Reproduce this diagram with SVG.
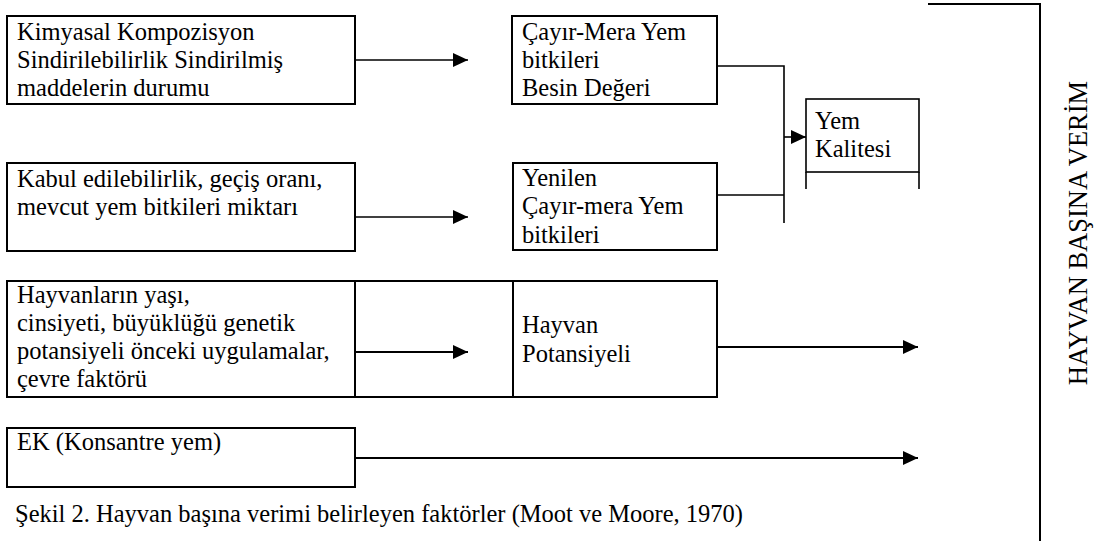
<svg xmlns="http://www.w3.org/2000/svg" width="1102" height="546" viewBox="0 0 1102 546">
<style>
  .box { fill: #fff; stroke: #000; stroke-width: 2; }
  .t { font-family: "Liberation Serif", "Times New Roman", serif; font-size: 24.5px; fill: #000; }
  .c { fill: none; stroke: #000; stroke-width: 1.6; }
</style>
<defs>
  <marker id="ah" markerUnits="userSpaceOnUse" markerWidth="16" markerHeight="16" refX="15" refY="7" orient="auto">
    <path d="M0,0 L15,7 L0,14 z" fill="#000"/>
  </marker>
</defs>
<rect width="1102" height="546" fill="#fff"/>

<g id="n-kimyasal">
  <rect class="box" x="7" y="16" width="348" height="88"/>
  <text class="t" x="17" y="40">Kimyasal Kompozisyon</text>
  <text class="t" x="17" y="68">Sindirilebilirlik Sindirilmiş</text>
  <text class="t" x="17" y="96">maddelerin durumu</text>
</g>
<g id="n-cayir">
  <rect class="box" x="512" y="16" width="205" height="88"/>
  <text class="t" x="522" y="40">Çayır-Mera Yem</text>
  <text class="t" x="522" y="68">bitkileri</text>
  <text class="t" x="522" y="96">Besin Değeri</text>
</g>
<g id="n-kabul">
  <rect class="box" x="7" y="163" width="348" height="88"/>
  <text class="t" x="17" y="187">Kabul edilebilirlik, geçiş oranı,</text>
  <text class="t" x="17" y="215">mevcut yem bitkileri miktarı</text>
</g>
<g id="n-yenilen">
  <rect class="box" x="513" y="163" width="204" height="87"/>
  <text class="t" x="522" y="186">Yenilen</text>
  <text class="t" x="522" y="214">Çayır-mera Yem</text>
  <text class="t" x="522" y="243">bitkileri</text>
</g>
<g id="n-kalite">
  <rect class="box" x="806" y="99" width="113" height="73" style="stroke-width:1.6"/>
  <line class="c" x1="806" y1="172" x2="806" y2="189"/>
  <line class="c" x1="919" y1="172" x2="919" y2="189"/>
  <text class="t" x="815" y="129">Yem</text>
  <text class="t" x="815" y="157">Kalitesi</text>
</g>
<g id="n-hayvanlar">
  <rect class="box" x="7" y="281" width="348" height="116"/>
  <text class="t" x="17" y="303">Hayvanların yaşı,</text>
  <text class="t" x="17" y="331">cinsiyeti, büyüklüğü genetik</text>
  <text class="t" x="17" y="359">potansiyeli önceki uygulamalar,</text>
  <text class="t" x="17" y="387">çevre faktörü</text>
</g>
<g id="n-bos">
  <rect class="box" x="355" y="281" width="158" height="116"/>
</g>
<g id="n-potansiyel">
  <rect class="box" x="513" y="281" width="204" height="116"/>
  <text class="t" x="522" y="333">Hayvan</text>
  <text class="t" x="522" y="362">Potansiyeli</text>
</g>
<g id="n-ek">
  <rect class="box" x="7" y="428" width="348" height="59"/>
  <text class="t" x="17" y="450">EK (Konsantre yem)</text>
</g>
<g id="n-verim">
  <polyline class="c" points="928,4 1040,4 1040,541" style="stroke-width:2"/>
  <text class="t" transform="translate(1087,233) rotate(-90)" text-anchor="middle" style="font-size:26.5px">HAYVAN BAŞINA VERİM</text>
</g>

<g id="connectors">
  <line class="c" x1="355" y1="60" x2="468" y2="60" marker-end="url(#ah)"/>
  <line class="c" x1="355" y1="217" x2="468" y2="217" marker-end="url(#ah)"/>
  <polyline class="c" points="717,66 784,66 784,223"/>
  <line class="c" x1="717" y1="195" x2="784" y2="195"/>
  <line class="c" x1="784" y1="137" x2="806" y2="137" marker-end="url(#ah)"/>
  <line class="c" x1="355" y1="352" x2="468" y2="352" marker-end="url(#ah)" style="stroke-width:2"/>
  <line class="c" x1="717" y1="347" x2="918" y2="347" marker-end="url(#ah)" style="stroke-width:2"/>
  <line class="c" x1="355" y1="458" x2="918" y2="458" marker-end="url(#ah)" style="stroke-width:2"/>
</g>

<text id="caption" class="t" x="15" y="522">Şekil 2. Hayvan başına verimi belirleyen faktörler (Moot ve Moore, 1970)</text>
</svg>
